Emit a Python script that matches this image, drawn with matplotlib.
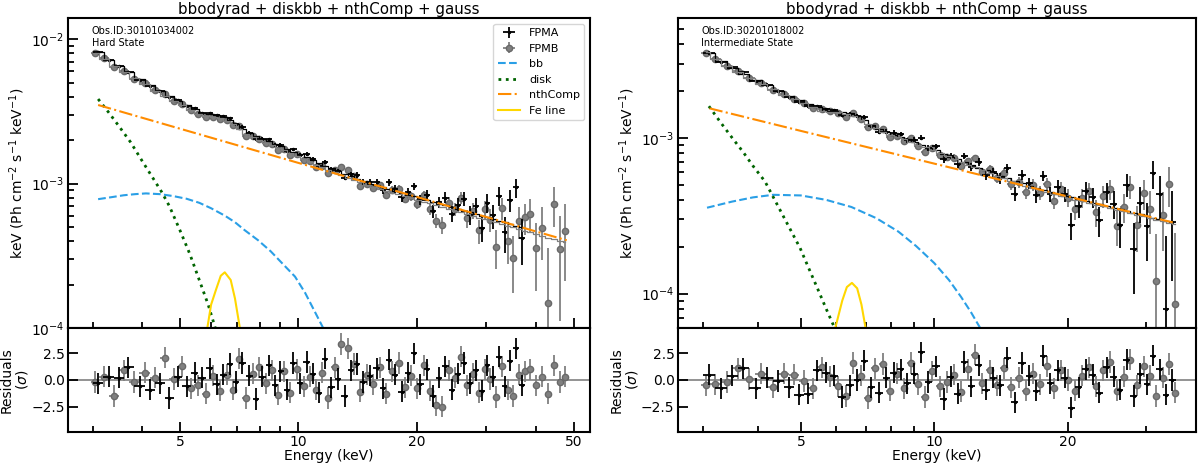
import numpy as np
import matplotlib.pyplot as plt
from matplotlib.ticker import NullFormatter

# ---------------- Hard state (Obs.ID 30101034002) ----------------
# fluxes / errors / model in units of 1e-3 Ph cm^-2 s^-1 keV^-1 (keV)
ea_hard = [3.1, 3.3, 3.5, 3.7, 3.95, 4.2, 4.45, 4.7, 4.95, 5.2, 5.45, 5.7, 5.95, 6.2, 6.45, 6.7,
           6.95, 7.2, 7.5, 7.8, 8.1, 8.4, 8.7, 9.0, 9.35, 9.7, 10.1, 10.5, 10.9, 11.3, 11.7, 12.1,
           12.6, 13.1, 13.6, 14.1, 14.6, 15.2, 15.8, 16.4, 17.0, 17.6, 18.3, 19.0, 19.7, 20.4, 21.2,
           22.0, 22.8, 23.6, 24.5, 25.4, 26.3, 27.2, 28.2, 29.2, 30.2, 31.2, 32.3, 33.4, 34.5, 35.7, 36.9]
fa_hard = [8.10, 7.22, 6.52, 5.96, 5.22, 4.73, 4.37, 3.96, 3.76, 3.47, 3.32, 3.09, 3.09, 2.97, 2.93, 2.84,
           2.58, 2.48, 2.25, 2.05, 2.05, 2.02, 1.86, 1.85, 1.69, 1.73, 1.58, 1.60, 1.48, 1.32, 1.42, 1.25,
           1.22, 1.10, 1.16, 1.15, 1.03, 1.02, 1.023, 0.901, 1.020, 0.918, 0.803, 0.880, 0.959, 0.769, 0.836,
           0.647, 0.740, 0.800, 0.619, 0.716, 0.785, 0.606, 0.701, 0.496, 0.734, 0.602, 0.821, 0.461, 0.771, 0.940, 0.423]
da_hard = [0.098, 0.086, 0.078, 0.071, 0.063, 0.067, 0.061, 0.057, 0.052, 0.056, 0.052, 0.049, 0.049, 0.054, 0.052, 0.050,
           0.047, 0.048, 0.045, 0.043, 0.047, 0.045, 0.043, 0.047, 0.045, 0.043, 0.048, 0.046, 0.044, 0.047, 0.045, 0.049,
           0.046, 0.049, 0.047, 0.050, 0.048, 0.050, 0.049, 0.052, 0.055, 0.053, 0.056, 0.059, 0.057, 0.061, 0.065,
           0.067, 0.065, 0.071, 0.076, 0.080, 0.085, 0.089, 0.095, 0.102, 0.108, 0.114, 0.122, 0.129, 0.137, 0.143, 0.149]
ma_hard = [8.13, 7.19, 6.50, 5.88, 5.26, 4.79, 4.39, 4.06, 3.74, 3.50, 3.28, 3.08, 3.04, 2.99, 2.90, 2.77,
           2.59, 2.40, 2.23, 2.13, 2.04, 1.96, 1.88, 1.81, 1.73, 1.66, 1.59, 1.52, 1.45, 1.38, 1.33, 1.28,
           1.22, 1.17, 1.12, 1.08, 1.04, 1.00, 0.970, 0.942, 0.916, 0.891, 0.865, 0.839, 0.816, 0.793, 0.771,
           0.748, 0.727, 0.708, 0.687, 0.668, 0.650, 0.633, 0.615, 0.598, 0.583, 0.568, 0.553, 0.539, 0.525, 0.511, 0.498]
ra_hard = [-0.3, 0.3, 0.2, 1.2, -0.6, -0.9, -0.3, -1.7, 0.3, -0.6, 0.7, 0.2, 1.1, -0.4, 0.5, 1.5,
           -0.2, 1.6, 0.4, -1.8, 0.3, 1.4, -0.5, 0.8, -0.9, 1.6, -0.3, 1.7, 0.6, -1.2, 2.0, -0.7,
           0.1, -1.5, 0.9, 1.5, -0.2, 0.4, 1.1, -0.8, 1.9, 0.5, -1.1, 0.7, 2.5, -0.4, 1.0,
           -1.5, 0.2, 1.3, -0.9, 0.6, 1.6, -0.3, 0.9, -1.0, 1.4, 0.3, 2.2, -0.6, 1.8, 3.0, -0.5]

eb_hard = [3.05, 3.2, 3.4, 3.6, 3.82, 4.07, 4.32, 4.57, 4.82, 5.07, 5.32, 5.57, 5.82, 6.07, 6.32, 6.57,
           6.82, 7.07, 7.35, 7.65, 7.95, 8.25, 8.55, 8.85, 9.17, 9.52, 9.9, 10.3, 10.7, 11.1, 11.5, 11.9,
           12.35, 12.85, 13.35, 13.85, 14.35, 14.9, 15.5, 16.1, 16.7, 17.3, 17.95, 18.65, 19.35, 20.05, 20.8,
           21.6, 22.4, 23.2, 24.05, 24.95, 25.85, 26.75, 27.7, 28.7, 29.7, 30.7, 31.75, 32.85, 33.95, 35.1,
           36.3, 37.5, 38.8, 40.2, 41.6, 43.1, 44.6, 46.1, 47.6]
fb_hard = [8.00, 7.36, 6.44, 5.99, 5.33, 4.97, 4.41, 4.17, 3.75, 3.55, 3.21, 3.03, 2.88, 2.91, 2.78, 2.74,
           2.53, 2.50, 2.14, 2.12, 2.05, 1.91, 1.88, 1.71, 1.74, 1.58, 1.60, 1.46, 1.43, 1.31, 1.33, 1.18,
           1.25, 1.30, 1.24, 1.13, 0.968, 1.00, 0.927, 0.979, 0.828, 0.909, 0.924, 0.781, 0.816, 0.725, 0.832,
           0.669, 0.555, 0.516, 0.735, 0.664, 0.800, 0.575, 0.649, 0.474, 0.662, 0.562, 0.366, 0.674, 0.401, 0.303,
           0.552, 0.584, 0.620, 0.357, 0.493, 0.148, 0.727, 0.353, 0.467]
db_hard = [0.096, 0.088, 0.079, 0.071, 0.064, 0.069, 0.062, 0.057, 0.052, 0.056, 0.052, 0.049, 0.047, 0.052, 0.051, 0.049,
           0.046, 0.048, 0.044, 0.042, 0.040, 0.044, 0.042, 0.041, 0.044, 0.042, 0.041, 0.045, 0.043, 0.046, 0.044, 0.043,
           0.046, 0.044, 0.046, 0.045, 0.047, 0.045, 0.047, 0.050, 0.049, 0.052, 0.051, 0.053, 0.056, 0.060, 0.058,
           0.061, 0.064, 0.069, 0.074, 0.072, 0.076, 0.080, 0.084, 0.090, 0.096, 0.102, 0.108, 0.115, 0.123, 0.129,
           0.136, 0.141, 0.161, 0.178, 0.195, 0.211, 0.226, 0.241, 0.254]
mb_hard = [8.02, 7.33, 6.56, 5.93, 5.34, 4.92, 4.40, 4.05, 3.74, 3.48, 3.25, 3.05, 2.94, 2.89, 2.83, 2.72,
           2.57, 2.40, 2.22, 2.09, 2.00, 1.92, 1.84, 1.77, 1.70, 1.63, 1.56, 1.49, 1.42, 1.35, 1.30, 1.25,
           1.20, 1.15, 1.10, 1.06, 1.02, 0.98, 0.946, 0.918, 0.892, 0.867, 0.843, 0.818, 0.794, 0.773, 0.751,
           0.730, 0.708, 0.688, 0.669, 0.650, 0.633, 0.615, 0.599, 0.582, 0.566, 0.552, 0.538, 0.524, 0.511, 0.497,
           0.484, 0.471, 0.459, 0.446, 0.434, 0.422, 0.411, 0.401, 0.391]
rb_hard = [-0.2, 0.3, -1.5, 0.9, -0.2, 0.7, 0.2, 2.1, 0.1, 1.3, -0.8, -0.5, -1.3, 0.4, -1.0, 0.5,
           -0.9, 2.0, -1.7, 0.6, 1.2, -0.3, 0.9, -1.4, 0.8, -1.2, 1.0, -0.6, 0.3, -0.9, 0.7, -1.7,
           1.2, 3.4, 3.0, 1.5, -1.1, 0.5, -0.4, 1.2, -1.3, 0.8, 1.6, -0.7, 0.4, -0.8, 1.4,
           -1.0, -2.4, -2.5, 0.9, 0.2, 2.2, -0.5, 0.6, -1.2, 1.0, 0.1, -1.6, 1.3, -0.9, -1.5,
           0.5, 0.8, 1.0, -0.5, 0.3, -1.3, 1.4, -0.2, 0.3]

# model components (1e-4 units)
bb_e_hard = [3.1, 3.35, 3.6, 3.85, 4.1, 4.45, 4.8, 5.2, 5.6, 6.0, 6.5, 6.9, 7.3, 7.9, 8.5, 9.1, 9.8,
             10.4, 11.0, 11.6]
bb_f_hard = [7.8, 8.05, 8.3, 8.45, 8.55, 8.45, 8.2, 7.85, 7.36, 6.75, 6.0, 5.4, 4.76, 4.05, 3.4, 2.8,
             2.27, 1.75, 1.3, 0.98]
disk_e_hard = [3.1, 3.3, 3.5, 3.75, 4.0, 4.3, 4.5, 4.7, 5.0, 5.3, 5.6, 5.9, 6.15, 6.4]
disk_f_hard = [38.5, 31.0, 25.0, 19.3, 14.5, 10.6, 8.7, 7.0, 4.76, 3.25, 2.15, 1.45, 1.0, 0.7]
nth_e_hard = [3.1, 5, 10, 20, 30, 40, 48]
nth_f_hard = [35.0, 24.0, 13.9, 8.07, 5.87, 4.67, 4.05]
fe_e_hard = [5.87, 6.0, 6.17, 6.35, 6.5, 6.73, 6.9, 7.1]
fe_f_hard = [1.0, 1.45, 1.83, 2.3, 2.43, 2.15, 1.6, 1.0]

# ---------------- Intermediate state (Obs.ID 30201018002) ----------------
ea_int = [3.1, 3.3, 3.5, 3.7, 3.95, 4.2, 4.45, 4.7, 4.95, 5.2, 5.45, 5.7, 5.95, 6.2, 6.45, 6.7,
          6.95, 7.2, 7.5, 7.8, 8.1, 8.4, 8.7, 9.0, 9.35, 9.7, 10.1, 10.5, 10.9, 11.3, 11.7, 12.1,
          12.6, 13.1, 13.6, 14.1, 14.6, 15.2, 15.8, 16.4, 17.0, 17.6, 18.3, 19.0, 19.7, 20.4, 21.2,
          22.0, 22.8, 23.6, 24.5, 25.4, 26.3, 27.2, 28.2, 29.2, 30.2, 31.2, 32.3, 33.4, 34.5]
fa_int = [3.54, 3.07, 2.84, 2.64, 2.33, 2.20, 2.00, 1.83, 1.70, 1.60, 1.60, 1.53, 1.51, 1.41, 1.42, 1.38,
          1.36, 1.19, 1.10, 1.10, 1.08, 1.06, 0.967, 0.969, 1.003, 0.861, 0.882, 0.727, 0.770, 0.678, 0.764, 0.649,
          0.699, 0.581, 0.601, 0.551, 0.638, 0.439, 0.578, 0.512, 0.430, 0.571, 0.434, 0.484, 0.436, 0.275, 0.363,
          0.457, 0.415, 0.296, 0.448, 0.378, 0.276, 0.502, 0.192, 0.383, 0.272, 0.591, 0.436, 0.080, 0.287]
da_int = [0.063, 0.056, 0.051, 0.047, 0.042, 0.046, 0.042, 0.039, 0.037, 0.040, 0.038, 0.036, 0.036, 0.040, 0.039, 0.037,
          0.035, 0.038, 0.035, 0.034, 0.038, 0.037, 0.035, 0.039, 0.037, 0.036, 0.039, 0.037, 0.036, 0.039, 0.037, 0.040,
          0.039, 0.041, 0.040, 0.042, 0.041, 0.043, 0.042, 0.044, 0.048, 0.046, 0.049, 0.052, 0.051, 0.054, 0.059,
          0.063, 0.061, 0.066, 0.069, 0.075, 0.080, 0.085, 0.093, 0.100, 0.111, 0.123, 0.135, 0.153, 0.166]
ma_int = [3.51, 3.11, 2.82, 2.59, 2.36, 2.19, 2.00, 1.86, 1.75, 1.65, 1.57, 1.50, 1.50, 1.47, 1.44, 1.38,
          1.30, 1.22, 1.14, 1.09, 1.05, 1.02, 0.978, 0.946, 0.906, 0.868, 0.831, 0.794, 0.759, 0.728, 0.701, 0.673,
          0.645, 0.618, 0.593, 0.572, 0.552, 0.530, 0.511, 0.494, 0.478, 0.464, 0.449, 0.437, 0.426, 0.415, 0.404,
          0.394, 0.384, 0.375, 0.365, 0.356, 0.348, 0.340, 0.331, 0.323, 0.316, 0.308, 0.301, 0.294, 0.287]
ra_int = [0.5, -0.8, 0.4, 1.1, -0.8, 0.2, -0.1, -0.7, -1.4, -1.3, 0.9, 0.7, 0.4, -1.6, -0.5, 0.0,
          1.8, -0.7, -1.2, 0.2, 0.7, 1.0, -0.3, 0.6, 2.6, -0.2, 1.3, -1.8, 0.3, -1.3, 1.7, -0.6,
          1.4, -0.9, 0.2, -0.5, 2.1, -2.1, 1.6, 0.4, -1.0, 2.3, -0.3, 0.9, 0.2, -2.6, -0.7,
          1.0, 0.5, -1.2, 1.2, 0.3, -0.9, 1.9, -1.5, 0.6, -0.4, 2.3, 1.0, -1.4, 0.0]

eb_int = [3.05, 3.2, 3.4, 3.6, 3.82, 4.07, 4.32, 4.57, 4.82, 5.07, 5.32, 5.57, 5.82, 6.07, 6.32, 6.57,
          6.82, 7.07, 7.35, 7.65, 7.95, 8.25, 8.55, 8.85, 9.17, 9.52, 9.9, 10.3, 10.7, 11.1, 11.5, 11.9,
          12.35, 12.85, 13.35, 13.85, 14.35, 14.9, 15.5, 16.1, 16.7, 17.3, 17.95, 18.65, 19.35, 20.05, 20.8,
          21.6, 22.4, 23.2, 24.05, 24.95, 25.85, 26.75, 27.7, 28.7, 29.7, 30.7, 31.75, 32.85, 33.95, 35.0]
fb_int = [3.52, 3.22, 2.90, 2.70, 2.43, 2.26, 2.02, 1.91, 1.79, 1.67, 1.55, 1.54, 1.48, 1.44, 1.37, 1.44,
          1.32, 1.17, 1.20, 1.14, 1.02, 1.03, 0.951, 0.997, 0.892, 0.812, 0.860, 0.775, 0.754, 0.748, 0.659, 0.709,
          0.739, 0.608, 0.630, 0.552, 0.596, 0.503, 0.518, 0.449, 0.502, 0.444, 0.506, 0.396, 0.469, 0.413, 0.350,
          0.414, 0.454, 0.333, 0.425, 0.468, 0.273, 0.360, 0.485, 0.275, 0.441, 0.349, 0.120, 0.318, 0.507, 0.085]
db_int = [0.064, 0.058, 0.052, 0.048, 0.044, 0.047, 0.043, 0.040, 0.037, 0.040, 0.038, 0.036, 0.035, 0.039, 0.039, 0.037,
          0.035, 0.038, 0.036, 0.034, 0.033, 0.036, 0.035, 0.034, 0.037, 0.036, 0.034, 0.037, 0.036, 0.039, 0.037, 0.036,
          0.039, 0.037, 0.040, 0.038, 0.041, 0.039, 0.042, 0.044, 0.043, 0.046, 0.045, 0.048, 0.051, 0.054, 0.052,
          0.057, 0.061, 0.065, 0.069, 0.067, 0.072, 0.078, 0.082, 0.090, 0.097, 0.107, 0.120, 0.131, 0.148, 0.161]
mb_int = [3.55, 3.24, 2.91, 2.65, 2.43, 2.23, 2.05, 1.89, 1.77, 1.67, 1.58, 1.50, 1.47, 1.46, 1.43, 1.38,
          1.31, 1.23, 1.16, 1.09, 1.05, 1.01, 0.979, 0.943, 0.907, 0.869, 0.833, 0.797, 0.761, 0.729, 0.700, 0.673,
          0.646, 0.619, 0.594, 0.571, 0.551, 0.530, 0.510, 0.493, 0.476, 0.462, 0.448, 0.434, 0.423, 0.413, 0.402,
          0.391, 0.381, 0.372, 0.363, 0.354, 0.345, 0.337, 0.329, 0.320, 0.314, 0.306, 0.299, 0.292, 0.285, 0.278]
rb_int = [-0.5, -0.4, -0.2, 1.1, 0.1, 0.6, -0.7, 0.6, 0.5, -0.1, -0.8, 1.2, 0.3, -0.6, -1.5, 1.6,
          0.4, -1.7, 1.1, 1.5, -1.0, 0.6, -0.8, 1.6, -0.4, -1.6, 0.8, -0.6, -0.2, 0.5, -1.1, 1.0,
          2.4, -0.3, 0.9, -0.5, 1.1, -0.7, 0.2, -1.0, 0.6, -0.4, 1.3, -0.8, 0.9, 0.0, -1.0,
          0.4, 1.2, -0.6, 0.9, 1.7, -1.0, 0.3, 1.9, -0.5, 1.3, 0.4, -1.5, 0.2, 1.5, -1.2]

bb_e_int = [3.07, 3.5, 3.9, 4.33, 5.0, 5.7, 6.5, 7.4, 8.3, 9.1, 10.0, 10.8, 11.5, 12.1, 12.7]
bb_f_int = [3.56, 3.9, 4.15, 4.31, 4.27, 4.0, 3.6, 3.05, 2.5, 2.02, 1.57, 1.22, 0.95, 0.76, 0.6]
disk_e_int = [3.1, 3.3, 3.5, 3.7, 3.9, 4.15, 4.45, 4.7, 4.98, 5.2, 5.45, 5.7, 5.96]
disk_f_int = [16.0, 12.5, 10.0, 8.15, 6.6, 5.25, 3.6, 2.68, 1.96, 1.47, 1.08, 0.80, 0.6]
nth_e_int = [3.11, 5, 10, 20, 30, 35]
nth_f_int = [15.5, 11.1, 6.84, 4.21, 3.16, 2.84]
fe_e_int = [5.98, 6.2, 6.35, 6.52, 6.7, 6.85, 7.0]
fe_f_int = [0.6, 0.9, 1.1, 1.17, 1.08, 0.85, 0.6]


def bin_halfwidths(e):
    e = np.asarray(e, dtype=float)
    mid = np.sqrt(e[1:] * e[:-1])
    lo = np.r_[e[0] - (mid[0] - e[0]), mid]
    hi = np.r_[mid, e[-1] + (e[-1] - mid[-1])]
    return [e - lo, hi - e]


def draw_state(ax, axr, A, B, comps, xlim, ylim, obs, state, legend):
    ea, fa, da, ma, ra = A
    eb, fb, db, mb, rb = B
    xa, xb = bin_halfwidths(ea), bin_halfwidths(eb)

    # spectrum
    ha = ax.errorbar(ea, np.array(fa) * 1e-3, xerr=xa, yerr=np.array(da) * 1e-3, fmt='.', color='black',
                     ms=3, elinewidth=1.3, capsize=0, label='FPMA', zorder=3)
    hb = ax.errorbar(eb, np.array(fb) * 1e-3, xerr=xb, yerr=np.array(db) * 1e-3, fmt='o', color='gray',
                     mec='dimgray', ms=4.5, elinewidth=1.3, capsize=0, label='FPMB', zorder=2)
    ax.plot(ea, np.array(ma) * 1e-3, drawstyle='steps-mid', color='black', lw=0.9, zorder=4)
    ax.plot(eb, np.array(mb) * 1e-3, drawstyle='steps-mid', color='gray', lw=0.9, zorder=4)

    (bbe, bbf), (dke, dkf), (nte, ntf), (fee, fef) = comps
    h1, = ax.plot(bbe, np.array(bbf) * 1e-4, ls='--', color='#2a9fe6', lw=1.5, label='bb', zorder=5)
    h2, = ax.plot(dke, np.array(dkf) * 1e-4, ls=':', color='darkgreen', lw=2, label='disk', zorder=5)
    h3, = ax.plot(nte, np.array(ntf) * 1e-4, ls='-.', color='darkorange', lw=1.5, label='nthComp', zorder=5)
    h4, = ax.plot(fee, np.array(fef) * 1e-4, ls='-', color='gold', lw=1.5, label='Fe line', zorder=5)

    ax.set_xscale('log')
    ax.set_yscale('log')
    ax.set_xlim(*xlim)
    ax.set_ylim(*ylim)
    ax.set_ylabel('keV (Ph cm$^{-2}$ s$^{-1}$ keV$^{-1}$)', fontsize=10, labelpad=3)
    ax.set_title('bbodyrad + diskbb + nthComp + gauss', fontsize=10.8, pad=3)
    ax.text(0.045, 0.975, obs + '\n' + state, transform=ax.transAxes, fontsize=7,
            va='top', ha='left', linespacing=1.3)
    if legend:
        ax.legend([ha, hb, h1, h2, h3, h4], ['FPMA', 'FPMB', 'bb', 'disk', 'nthComp', 'Fe line'],
                  loc='upper right', fontsize=8)

    # residuals
    axr.axhline(0, color='gray', lw=1.2, zorder=1)
    axr.errorbar(ea, ra, xerr=xa, yerr=1, fmt='.', color='black', ms=3, elinewidth=1.3, capsize=0, zorder=3)
    axr.errorbar(eb, rb, xerr=xb, yerr=1, fmt='o', color='gray', mec='dimgray', ms=4.5,
                 elinewidth=1.3, capsize=0, zorder=2)
    axr.set_xscale('log')
    axr.set_xlim(*xlim)
    axr.set_ylim(-4.9, 4.9)
    axr.set_yticks([-2.5, 0.0, 2.5])
    axr.set_ylabel('Residuals\n($\\sigma$)', fontsize=10, labelpad=1, linespacing=1.0)
    axr.set_xlabel('Energy (keV)', fontsize=10, labelpad=0)

    for a in (ax, axr):
        a.set_xticks([5, 10, 20, 50])
        a.set_xticks([3, 4, 6, 7, 8, 9, 30, 40], minor=True)
        a.xaxis.set_minor_formatter(NullFormatter())
        a.set_xlim(*xlim)
        a.tick_params(which='both', direction='in', width=1.3, labelsize=10, pad=2.5)
        a.tick_params(which='major', length=7)
        a.tick_params(which='minor', length=4)
        for s in a.spines.values():
            s.set_linewidth(1.5)
    axr.set_xticklabels(['5', '10', '20', '50'])
    ax.tick_params(labelbottom=False)


fig = plt.figure(figsize=(12, 4.66), dpi=100)
ax1 = fig.add_axes([0.0567, 0.2961, 0.435, 0.6652])
ax1r = fig.add_axes([0.0567, 0.0730, 0.435, 0.2232])
ax2 = fig.add_axes([0.565, 0.2961, 0.4317, 0.6652])
ax2r = fig.add_axes([0.565, 0.0730, 0.4317, 0.2232])

draw_state(ax1, ax1r,
           (ea_hard, fa_hard, da_hard, ma_hard, ra_hard),
           (eb_hard, fb_hard, db_hard, mb_hard, rb_hard),
           ((bb_e_hard, bb_f_hard), (disk_e_hard, disk_f_hard),
            (nth_e_hard, nth_f_hard), (fe_e_hard, fe_f_hard)),
           (2.6, 55), (1e-4, 0.014), 'Obs.ID:30101034002', 'Hard State', True)
draw_state(ax2, ax2r,
           (ea_int, fa_int, da_int, ma_int, ra_int),
           (eb_int, fb_int, db_int, mb_int, rb_int),
           ((bb_e_int, bb_f_int), (disk_e_int, disk_f_int),
            (nth_e_int, nth_f_int), (fe_e_int, fe_f_int)),
           (2.64, 39), (6e-5, 5.9e-3), 'Obs.ID:30201018002', 'Intermediate State', False)

fig.savefig('out.png', dpi=100)
